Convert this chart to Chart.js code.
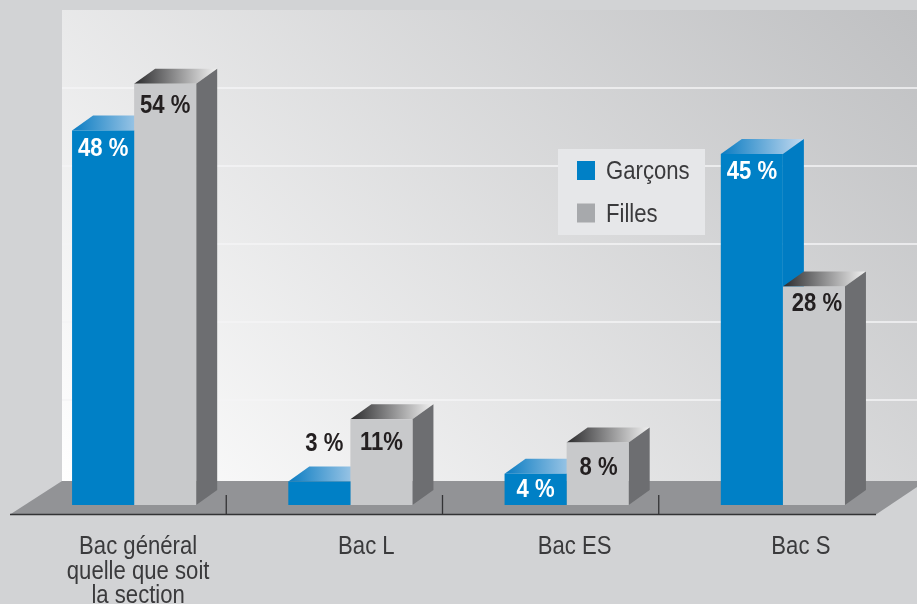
<!DOCTYPE html>
<html><head><meta charset="utf-8">
<style>html,body{margin:0;padding:0;background:#d2d3d5}canvas{display:block}</style>
<script src="https://cdn.jsdelivr.net/npm/chart.js@4"></script></head>
<body><canvas id="c" width="917" height="604"></canvas>
<script>
const categories = [["Bac général","quelle que soit","la section"],"Bac L","Bac ES","Bac S"];
const garcons = [48,3,4,45];
const filles = [54,11,8,28];
const gridValues = [10,20,30,40,50];

const FONT = "'Liberation Sans'";
const DEPTH_X = 21, DEPTH_Y = 15, WALL_LIFT = 27, TICK_SHIFT = -16;
const TEXT_SQUEEZE = 0.885, VALUE_SQUEEZE = 0.85, SQUEEZE_ORIGIN = 60;
const labelShifts = [4,16,8,18];
const blueLabelDy = [18,-38,16,18];
const greyLabelDy = [22,24,25,17];
const blueLabelDx = [0,5,0,0];
const greyLabelDx = [0,0,1,3];
const legendSwatches = ['#0080c6','#a7a9ac'];

const scene = {
  id:'scene',
  beforeDraw(chart){
    const c = chart.ctx, x = chart.scales.x, y = chart.scales.y, a = chart.chartArea;
    c.save();
    const wallLeft = 62, floorBack = 481;
    const g = c.createLinearGradient(wallLeft,floorBack,725,-182);
    g.addColorStop(0,'#ffffff'); g.addColorStop(1,'#bfc0c2');
    c.fillStyle = g; c.fillRect(wallLeft,a.top,917-wallLeft,floorBack-a.top);
    c.strokeStyle = '#f4f5f6'; c.lineWidth = 1.6;
    gridValues.forEach(v=>{const p=y.getPixelForValue(v)-WALL_LIFT;c.beginPath();c.moveTo(wallLeft,p);c.lineTo(917,p);c.stroke();});
    c.fillStyle = '#929396';
    c.beginPath();c.moveTo(62,481);c.lineTo(917,481);c.lineTo(917,487);c.lineTo(876,514.5);c.lineTo(10,514.5);c.closePath();c.fill();
    c.strokeStyle = '#333335'; c.lineWidth = 1.3;
    c.beginPath();c.moveTo(10,514.5);c.lineTo(876,514.5);
    for(let i=0;i<categories.length-1;i++){const m=(x.getPixelForTick(i)+x.getPixelForTick(i+1))/2+TICK_SHIFT;c.moveTo(m,495);c.lineTo(m,514.5);}
    c.stroke();
    c.fillStyle = '#e6e7e9'; c.fillRect(558,149,147,86);
    c.textBaseline='middle';c.textAlign='left';c.font="25px "+FONT;
    chart.data.datasets.forEach((ds,i)=>{
      const cy=170.5+i*42.5;
      c.fillStyle=legendSwatches[i];c.fillRect(577,cy-9.5,18,19);
      c.save();c.translate(606,cy+2);c.scale(TEXT_SQUEEZE,1);
      c.fillStyle='#3a3a3c';c.fillText(ds.label,0,0);c.restore();
    });
    c.restore();
    x.getLabelItems(a).forEach((it,i)=>{
      if(!it._moved){it.options.translation[0]=(it.options.translation[0]+labelShifts[i]-SQUEEZE_ORIGIN)/TEXT_SQUEEZE;it._moved=true;}
    });
    c.save();c.translate(SQUEEZE_ORIGIN,0);c.scale(TEXT_SQUEEZE,1);
  },
  beforeDatasetsDraw(chart){
    const c = chart.ctx;
    c.restore();
    chart.data.datasets.forEach((ds,di)=>{
      chart.getDatasetMeta(di).data.forEach(b=>{
        const l=b.x-b.width/2, r=b.x+b.width/2, t=b.y, bot=b.base;
        const tg=c.createLinearGradient(l,t,r+DEPTH_X,t);
        if(di===0){tg.addColorStop(0,'#0a7cc2');tg.addColorStop(1,'#c4daf0');}
        else{tg.addColorStop(0,'#2b2b2d');tg.addColorStop(1,'#f2f2f2');}
        c.fillStyle=tg;
        c.beginPath();c.moveTo(l,t);c.lineTo(l+DEPTH_X,t-DEPTH_Y);c.lineTo(r+DEPTH_X,t-DEPTH_Y);c.lineTo(r,t);c.closePath();c.fill();
        c.fillStyle=di===0?'#007cc3':'#6d6e71';
        c.beginPath();c.moveTo(r,t);c.lineTo(r+DEPTH_X,t-DEPTH_Y);c.lineTo(r+DEPTH_X,bot-DEPTH_Y);c.lineTo(r,bot);c.closePath();c.fill();
      });
    });
  },
  afterDatasetsDraw(chart){
    const c = chart.ctx;
    c.textAlign='center';c.textBaseline='middle';c.font="bold 26px "+FONT;
    chart.data.datasets.forEach((ds,di)=>{
      chart.getDatasetMeta(di).data.forEach((b,i)=>{
        const v=ds.data[i];
        const txt = (di===1&&v===11)? v+'%' : v+' %';
        const dy = di===0?blueLabelDy[i]:greyLabelDy[i];
        const dx = di===0?blueLabelDx[i]:greyLabelDx[i];
        c.save();c.translate(b.x+dx,b.y+dy);c.scale(VALUE_SQUEEZE,1);
        c.fillStyle = (di===0&&dy>0)?'#ffffff':'#231f20';
        c.fillText(txt,0,0);c.restore();
      });
    });
  }
};

new Chart(document.getElementById('c'),{
  type:'bar',
  data:{labels:categories,datasets:[
    {label:'Garçons',data:garcons,backgroundColor:'#0080c6',categoryPercentage:.574,barPercentage:1},
    {label:'Filles',data:filles,backgroundColor:'#c8c9cb',categoryPercentage:.574,barPercentage:1}
  ]},
  plugins:[scene],
  options:{
    responsive:false,animation:false,events:[],
    layout:{padding:{left:26,right:26,top:10,bottom:0}},
    scales:{
      x:{grid:{display:false},border:{display:false},
        afterFit(s){s.height=99;s.paddingLeft=0;s.paddingRight=0;},
        ticks:{autoSkip:false,maxRotation:0,padding:22,color:'#3a3a3c',font:{family:FONT,size:25,lineHeight:0.98}}},
      y:{display:false,min:0,max:63.46}
    },
    plugins:{tooltip:{enabled:false},legend:{display:false}}
  }
});
</script></body></html>
